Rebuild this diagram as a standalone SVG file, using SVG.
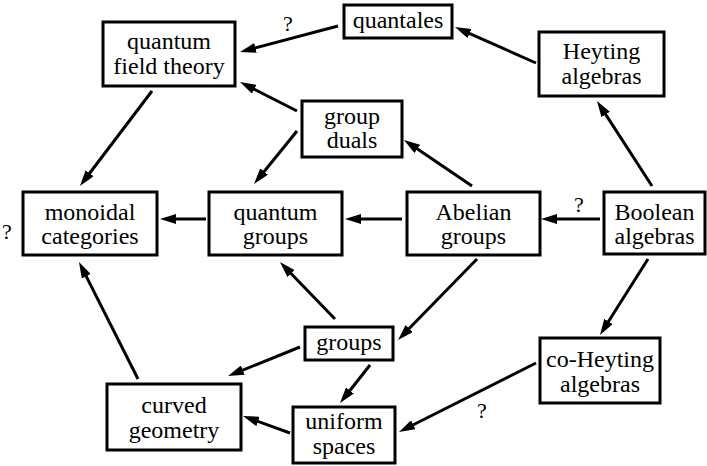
<svg xmlns="http://www.w3.org/2000/svg" width="707" height="466" viewBox="0 0 707 466">
<style>
  .box { fill: #fff; stroke: #000; stroke-width: 3; }
  .e { stroke: #000; stroke-width: 3; fill: none; marker-end: url(#ah); }
</style>
<defs>
  <marker id="ah" markerUnits="userSpaceOnUse" markerWidth="16" markerHeight="10" refX="6" refY="5" orient="auto" viewBox="0 0 16 10">
    <path d="M0,0 L16,5 L0,10 z" fill="#000"/>
  </marker>
</defs>
<rect width="707" height="466" fill="#fff"/>
<g id="connectors">
  <line class="e" x1="338" y1="26" x2="249.7" y2="49.4"/>
  <line class="e" x1="297" y1="111" x2="248.9" y2="86.5"/>
  <line class="e" x1="152" y1="91" x2="86" y2="178"/>
  <line class="e" x1="297" y1="131" x2="260.3" y2="176.2"/>
  <line class="e" x1="206" y1="219" x2="170" y2="219"/>
  <line class="e" x1="402" y1="219" x2="355" y2="219"/>
  <line class="e" x1="536" y1="63" x2="464.1" y2="31.1"/>
  <line class="e" x1="472" y1="186" x2="412.3" y2="145.6"/>
  <line class="e" x1="652" y1="186" x2="602.4" y2="109.4"/>
  <line class="e" x1="600" y1="219" x2="551" y2="219"/>
  <line class="e" x1="138" y1="379" x2="83.5" y2="270.9"/>
  <line class="e" x1="335" y1="319" x2="286.9" y2="269.2"/>
  <line class="e" x1="300" y1="347" x2="237.3" y2="372.3"/>
  <line class="e" x1="290" y1="433" x2="252.4" y2="419.4"/>
  <line class="e" x1="370" y1="365" x2="346.2" y2="395.2"/>
  <line class="e" x1="477" y1="259" x2="405" y2="332.8"/>
  <line class="e" x1="648" y1="259" x2="605.3" y2="326.5"/>
  <line class="e" x1="536" y1="363" x2="407.9" y2="427.5"/>
  <g font-family="Liberation Serif, serif" font-size="22" text-anchor="middle" fill="#000">
    <text x="288" y="31">?</text>
    <text x="7" y="239">?</text>
    <text x="579" y="212">?</text>
    <text x="482" y="418">?</text>
  </g>
</g>
<g font-family="Liberation Serif, serif" font-size="24" text-anchor="middle" fill="#000">
<g id="quantales">
  <rect class="box" x="344" y="5" width="108" height="33"/>
  <text x="398" y="28">quantales</text>
</g>
<g id="qft">
  <rect class="box" x="103" y="22" width="132" height="64"/>
  <text x="169" y="49">quantum</text>
  <text x="169" y="74">field theory</text>
</g>
<g id="heyting">
  <rect class="box" x="539" y="32" width="125" height="64"/>
  <text x="601.5" y="59">Heyting</text>
  <text x="601.5" y="84">algebras</text>
</g>
<g id="group-duals">
  <rect class="box" x="302" y="101" width="100" height="56"/>
  <text x="352" y="124">group</text>
  <text x="352" y="148">duals</text>
</g>
<g id="monoidal">
  <rect class="box" x="23" y="192" width="134" height="63"/>
  <text x="90" y="220">monoidal</text>
  <text x="90" y="244">categories</text>
</g>
<g id="quantum-groups">
  <rect class="box" x="209" y="192" width="133" height="63"/>
  <text x="275.5" y="220">quantum</text>
  <text x="275.5" y="244">groups</text>
</g>
<g id="abelian">
  <rect class="box" x="407" y="192" width="133" height="63"/>
  <text x="473.5" y="220">Abelian</text>
  <text x="473.5" y="244">groups</text>
</g>
<g id="boolean">
  <rect class="box" x="604" y="192" width="101" height="62"/>
  <text x="654.5" y="220">Boolean</text>
  <text x="654.5" y="244">algebras</text>
</g>
<g id="groups">
  <rect class="box" x="305" y="327" width="88" height="33"/>
  <text x="349" y="350">groups</text>
</g>
<g id="co-heyting">
  <rect class="box" x="540" y="338" width="120" height="65"/>
  <text x="600" y="367">co-Heyting</text>
  <text x="600" y="392">algebras</text>
</g>
<g id="curved-geometry">
  <rect class="box" x="107" y="384" width="134" height="66"/>
  <text x="174" y="413">curved</text>
  <text x="174" y="438">geometry</text>
</g>
<g id="uniform-spaces">
  <rect class="box" x="293" y="407" width="102" height="56"/>
  <text x="344" y="429">uniform</text>
  <text x="344" y="454">spaces</text>
</g>
</g>
</svg>
